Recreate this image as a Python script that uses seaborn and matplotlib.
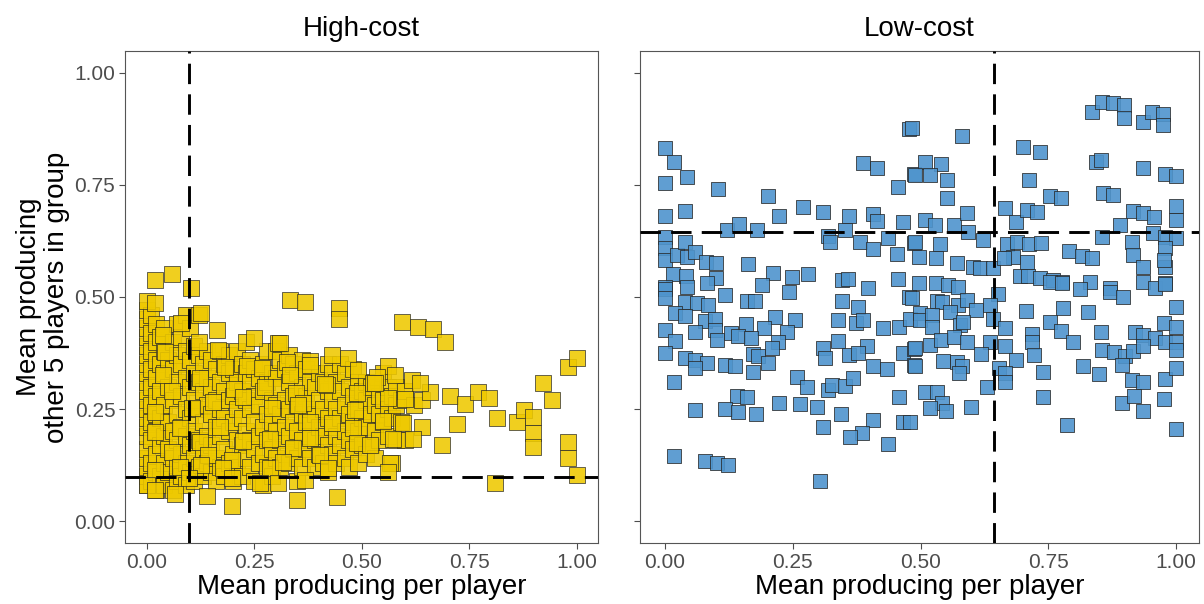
import matplotlib
matplotlib.use("Agg")
import matplotlib.pyplot as plt
import seaborn as sns
import pandas as pd

sns.set_theme(style="white")
plt.rcParams['font.family'] = ['Liberation Sans', 'DejaVu Sans']

# ---------------- text ----------------
panel_titles = ["High-cost", "Low-cost"]
x_label = "Mean producing per player"
y_label = "Mean producing\nother 5 players in group"
tick_values = [0.00, 0.25, 0.50, 0.75, 1.00]
tick_labels = ["0.00", "0.25", "0.50", "0.75", "1.00"]

# ---------------- reference means (dashed lines) ----------------
hc_mean_self = 0.097
hc_mean_other = 0.098
lc_mean_self = 0.644
lc_mean_other = 0.646

# ---------------- High-cost: individually read points ----------------
hc_x = [0.019, 0.058, 0.102, 0.000, 0.019, 0.126, 0.079, 0.163, 0.249, 0.037,
        0.121, 0.305, 0.042, 0.165, 0.181, 0.233, 0.267, 0.037, 0.123, 0.274,
        0.058, 0.202, 0.153, 0.223, 0.019, 0.291, 0.105, 0.170, 0.019, 0.077,
        0.123, 0.223, 0.286, 0.058, 0.142, 0.198, 0.286, 0.019, 0.077, 0.126,
        0.177, 0.098, 0.198, 0.263, 0.000, 0.019, 0.065, 0.140, 0.198,
        0.333, 0.367, 0.447, 0.447, 0.593, 0.630, 0.665, 0.693, 0.309, 0.430,
        0.467, 0.379, 0.326, 0.490, 0.560, 0.577, 0.616, 0.535,
        0.379, 0.658, 0.333, 0.419, 0.488, 0.526, 0.560, 0.600, 0.347, 0.363,
        0.379, 0.430, 0.479, 0.549, 0.595, 0.379, 0.340, 0.488, 0.519, 0.572,
        0.619, 0.316, 0.402, 0.421, 0.565, 0.560, 0.305, 0.367, 0.349, 0.442,
        0.686, 0.635, 0.705, 0.740, 0.770, 0.795, 0.814, 0.721, 0.860, 0.877,
        0.898, 0.898, 0.898, 0.921, 0.942, 0.979, 1.000, 0.979, 0.979, 1.000,
        0.809, 0.414, 0.530, 0.351, 0.484]
hc_y = [0.538, 0.551, 0.520, 0.490, 0.487, 0.464, 0.442, 0.426, 0.408, 0.415,
        0.400, 0.397, 0.377, 0.382, 0.344, 0.346, 0.341, 0.326, 0.319, 0.299,
        0.290, 0.295, 0.266, 0.277, 0.243, 0.252, 0.252, 0.210, 0.199, 0.208,
        0.176, 0.179, 0.183, 0.154, 0.147, 0.136, 0.118, 0.114, 0.120, 0.125,
        0.118, 0.096, 0.096, 0.085, 0.080, 0.069, 0.060, 0.056, 0.033,
        0.493, 0.489, 0.475, 0.451, 0.444, 0.433, 0.429, 0.400, 0.397, 0.370,
        0.363, 0.357, 0.355, 0.337, 0.346, 0.326, 0.315, 0.321,
        0.348, 0.288, 0.326, 0.304, 0.286, 0.308, 0.275, 0.272, 0.286, 0.263,
        0.221, 0.219, 0.208, 0.223, 0.219, 0.185, 0.163, 0.174, 0.170, 0.183,
        0.183, 0.132, 0.147, 0.118, 0.129, 0.109, 0.085, 0.092, 0.047, 0.054,
        0.170, 0.308, 0.279, 0.261, 0.288, 0.275, 0.230, 0.217, 0.221, 0.248,
        0.232, 0.196, 0.165, 0.308, 0.270, 0.344, 0.364, 0.176, 0.141, 0.103,
        0.085, 0.306, 0.308, 0.259, 0.248]

# ---------------- High-cost: dense cloud, read column by column ----------------
hc_cloud_x = [0.00, 0.01, 0.02, 0.03, 0.04, 0.05, 0.06, 0.07, 0.08, 0.09,
              0.10, 0.11, 0.12, 0.13, 0.14, 0.15, 0.16, 0.17, 0.18, 0.19,
              0.20, 0.21, 0.22, 0.23, 0.24, 0.25, 0.26, 0.27, 0.28, 0.29,
              0.30, 0.31, 0.32, 0.33, 0.34, 0.35, 0.36, 0.37, 0.38, 0.39,
              0.40, 0.41, 0.42, 0.43, 0.44, 0.45, 0.46, 0.47, 0.48, 0.49,
              0.50, 0.51, 0.52, 0.53, 0.54, 0.55, 0.56, 0.57, 0.58, 0.59,
              0.60, 0.62, 0.64]
hc_cloud_y = [
    [0.08, 0.10, 0.12, 0.14, 0.16, 0.19, 0.21, 0.23, 0.25, 0.27, 0.29, 0.31, 0.33, 0.35, 0.37, 0.39, 0.41, 0.43, 0.45, 0.47],
    [0.09, 0.13, 0.18, 0.22, 0.26, 0.30, 0.34, 0.38, 0.42, 0.46],
    [0.07, 0.11, 0.15, 0.20, 0.24, 0.28, 0.32, 0.36, 0.40, 0.44],
    [0.10, 0.17, 0.23, 0.29, 0.35, 0.41],
    [0.08, 0.13, 0.19, 0.26, 0.33, 0.38, 0.43],
    [0.11, 0.16, 0.22, 0.30, 0.36],
    [0.07, 0.14, 0.20, 0.27, 0.34, 0.40],
    [0.09, 0.12, 0.18, 0.24, 0.31, 0.37, 0.44],
    [0.10, 0.15, 0.21, 0.28, 0.35, 0.41],
    [0.08, 0.13, 0.19, 0.25, 0.32, 0.38, 0.46],
    [0.11, 0.17, 0.23, 0.30, 0.36, 0.43],
    [0.09, 0.14, 0.20, 0.27, 0.33, 0.39],
    [0.12, 0.18, 0.25, 0.31, 0.37, 0.46],
    [0.10, 0.16, 0.22, 0.29, 0.35],
    [0.13, 0.19, 0.26, 0.32, 0.38],
    [0.11, 0.17, 0.24, 0.30, 0.36],
    [0.09, 0.14, 0.21, 0.27, 0.34],
    [0.12, 0.19, 0.25, 0.31, 0.38],
    [0.10, 0.16, 0.23, 0.29, 0.35],
    [0.13, 0.20, 0.27, 0.33, 0.37],
    [0.09, 0.15, 0.22, 0.28, 0.34],
    [0.12, 0.18, 0.25, 0.31, 0.38],
    [0.10, 0.17, 0.23, 0.29, 0.35],
    [0.14, 0.20, 0.27, 0.33, 0.40],
    [0.12, 0.18, 0.25, 0.31, 0.36],
    [0.09, 0.16, 0.22, 0.28, 0.34],
    [0.13, 0.19, 0.26, 0.32],
    [0.08, 0.15, 0.21, 0.29, 0.35],
    [0.12, 0.18, 0.24, 0.31, 0.38],
    [0.10, 0.16, 0.22, 0.27, 0.33],
    [0.14, 0.20, 0.26, 0.32, 0.38],
    [0.12, 0.18, 0.24, 0.30, 0.36],
    [0.15, 0.21, 0.27, 0.34],
    [0.13, 0.19, 0.25, 0.31, 0.37],
    [0.16, 0.22, 0.28, 0.35],
    [0.09, 0.14, 0.20, 0.26, 0.33],
    [0.12, 0.18, 0.24, 0.30, 0.36],
    [0.16, 0.22, 0.28, 0.34],
    [0.14, 0.19, 0.25, 0.31],
    [0.12, 0.18, 0.24, 0.30],
    [0.15, 0.21, 0.27, 0.33],
    [0.13, 0.19, 0.25, 0.31],
    [0.11, 0.17, 0.23, 0.29, 0.35],
    [0.15, 0.21, 0.27, 0.33],
    [0.13, 0.19, 0.25, 0.31],
    [0.17, 0.23, 0.29, 0.35],
    [0.14, 0.20, 0.26, 0.33],
    [0.12, 0.18, 0.24, 0.30],
    [0.16, 0.22, 0.28, 0.34],
    [0.13, 0.20, 0.25, 0.31],
    [0.17, 0.23, 0.29],
    [0.15, 0.21, 0.27, 0.31],
    [0.17, 0.24, 0.30],
    [0.14, 0.20, 0.26],
    [0.18, 0.24, 0.28],
    [0.22, 0.27, 0.33],
    [0.19, 0.25, 0.30],
    [0.13, 0.23, 0.28],
    [0.18, 0.26, 0.30],
    [0.22, 0.27],
    [0.18, 0.29],
    [0.26],
    [0.21, 0.27],
]

# ---------------- Low-cost points ----------------
lc_x = [0.000, 0.018, 0.000, 0.043, 0.104, 0.202, 0.000, 0.039, 0.223, 0.270,
        0.309, 0.360, 0.407, 0.415, 0.466, 0.387, 0.415, 0.456, 0.477, 0.487,
        0.121, 0.145, 0.180, 0.319, 0.323, 0.352, 0.382, 0.407, 0.436, 0.454,
        0.487, 0.000, 0.000, 0.000, 0.023, 0.039, 0.043, 0.059, 0.080, 0.100,
        0.100, 0.162, 0.211, 0.249, 0.280, 0.016, 0.041, 0.082, 0.190, 0.346,
        0.358, 0.397, 0.456, 0.000, 0.043,
        0.483, 0.581, 0.701, 0.734, 0.843, 0.853, 0.935, 0.978, 1.000, 0.509,
        0.540, 0.489, 0.519, 0.552, 0.552, 0.712, 0.753, 0.775, 0.857, 0.877,
        0.665, 0.687, 0.708, 0.728, 0.916, 0.935, 0.957, 1.000, 1.000, 0.890,
        0.509, 0.528, 0.566, 0.591, 0.593, 0.622, 0.489, 0.538, 0.497, 0.530,
        0.571, 0.603, 0.616, 0.642, 0.669, 0.689, 0.712, 0.736, 0.681, 0.663,
        0.708, 0.791, 0.816, 0.836, 0.855, 0.914, 0.916, 0.935, 0.955, 0.978,
        1.000, 0.978, 0.978, 0.977, 0.695, 0.710, 0.734, 0.759, 0.777, 0.832,
        0.871, 0.935, 0.959, 0.978, 0.497, 0.530, 0.554, 0.573,
        0.836, 0.855, 0.877, 0.898, 0.898, 0.935, 0.953, 0.975, 0.975,
        0.000, 0.000, 0.243, 0.477, 0.346, 0.378, 0.039, 0.063, 0.084, 0.117,
        0.160, 0.176, 0.020, 0.039, 0.078, 0.098, 0.215, 0.254, 0.159, 0.194,
        0.239, 0.339, 0.374, 0.387, 0.427, 0.458, 0.479, 0.000, 0.059, 0.098,
        0.129, 0.102, 0.143, 0.168, 0.221, 0.209, 0.020, 0.339, 0.395, 0.000,
        0.039, 0.059, 0.082, 0.117, 0.137, 0.172, 0.182, 0.202, 0.172, 0.059,
        0.309, 0.313, 0.360, 0.378, 0.407, 0.434, 0.466, 0.487, 0.487, 0.018,
        0.258, 0.278, 0.319, 0.327, 0.352, 0.368, 0.458, 0.141, 0.160, 0.059,
        0.117, 0.143, 0.178, 0.223, 0.264, 0.297, 0.344, 0.309, 0.407, 0.386,
        0.362, 0.436, 0.466, 0.018, 0.078, 0.102, 0.123, 0.303,
        0.652, 0.753, 0.777, 0.812, 0.871, 0.896, 0.978, 1.000, 0.483, 0.532,
        0.542, 0.573, 0.591, 0.609, 0.636, 0.499, 0.499, 0.523, 0.523, 0.558,
        0.577, 0.583, 0.642, 0.665, 0.706, 0.779, 0.828, 0.753, 0.775, 0.798,
        0.718, 0.718, 0.853, 0.920, 0.935, 0.959, 0.978, 0.977, 1.000, 1.000,
        1.000, 0.489, 0.519, 0.540, 0.566, 0.591, 0.636, 0.665, 0.618, 0.687,
        0.722, 0.855, 0.879, 0.900, 0.916, 0.935, 0.489, 0.544, 0.571, 0.581,
        0.575, 0.654, 0.665, 0.665, 0.630, 0.740, 0.818, 0.849, 0.894, 0.914,
        0.935, 0.978, 1.000, 0.509, 0.532, 0.542, 0.519, 0.550, 0.599, 0.740,
        0.894, 0.918, 0.935, 0.977, 0.787, 1.000, 0.479]
lc_y = [0.833, 0.801, 0.754, 0.768, 0.741, 0.725, 0.681, 0.692, 0.681, 0.701,
        0.690, 0.681, 0.685, 0.670, 0.667, 0.799, 0.788, 0.746, 0.875, 0.775,
        0.650, 0.663, 0.650, 0.636, 0.623, 0.650, 0.623, 0.607, 0.632, 0.596,
        0.621, 0.634, 0.609, 0.583, 0.594, 0.623, 0.589, 0.600, 0.578, 0.576,
        0.542, 0.574, 0.554, 0.545, 0.551, 0.551, 0.547, 0.531, 0.527, 0.538,
        0.540, 0.520, 0.540, 0.522, 0.522,
        0.877, 0.859, 0.835, 0.824, 0.801, 0.806, 0.788, 0.775, 0.770, 0.801,
        0.797, 0.772, 0.772, 0.761, 0.721, 0.761, 0.725, 0.721, 0.732, 0.728,
        0.699, 0.667, 0.694, 0.690, 0.692, 0.688, 0.679, 0.703, 0.672, 0.661,
        0.672, 0.661, 0.661, 0.688, 0.645, 0.627, 0.623, 0.618, 0.589, 0.587,
        0.576, 0.567, 0.565, 0.565, 0.618, 0.623, 0.618, 0.621, 0.589, 0.587,
        0.578, 0.603, 0.592, 0.587, 0.634, 0.623, 0.594, 0.567, 0.643, 0.634,
        0.632, 0.609, 0.567, 0.583, 0.547, 0.547, 0.542, 0.538, 0.533, 0.533,
        0.520, 0.533, 0.520, 0.531, 0.531, 0.531, 0.527, 0.522,
        0.913, 0.935, 0.933, 0.929, 0.900, 0.891, 0.913, 0.908, 0.884,
        0.518, 0.498, 0.511, 0.500, 0.491, 0.478, 0.489, 0.487, 0.482, 0.504,
        0.491, 0.491, 0.464, 0.458, 0.446, 0.451, 0.455, 0.449, 0.440, 0.431,
        0.422, 0.449, 0.442, 0.449, 0.431, 0.433, 0.451, 0.426, 0.422, 0.426,
        0.420, 0.404, 0.413, 0.408, 0.400, 0.386, 0.402, 0.402, 0.391, 0.375,
        0.364, 0.359, 0.353, 0.348, 0.346, 0.373, 0.368, 0.353, 0.333, 0.342,
        0.386, 0.364, 0.371, 0.375, 0.346, 0.339, 0.375, 0.384, 0.348, 0.310,
        0.321, 0.299, 0.292, 0.304, 0.301, 0.319, 0.277, 0.279, 0.277, 0.248,
        0.250, 0.243, 0.239, 0.263, 0.261, 0.254, 0.239, 0.210, 0.225, 0.196,
        0.188, 0.172, 0.221, 0.145, 0.134, 0.129, 0.125, 0.089,
        0.507, 0.533, 0.531, 0.518, 0.511, 0.500, 0.529, 0.478, 0.498, 0.491,
        0.489, 0.482, 0.493, 0.471, 0.482, 0.464, 0.449, 0.460, 0.433, 0.467,
        0.438, 0.444, 0.451, 0.431, 0.469, 0.475, 0.467, 0.444, 0.424, 0.400,
        0.417, 0.400, 0.422, 0.422, 0.415, 0.408, 0.400, 0.442, 0.433, 0.400,
        0.382, 0.386, 0.393, 0.404, 0.411, 0.400, 0.400, 0.391, 0.373, 0.359,
        0.371, 0.382, 0.377, 0.368, 0.379, 0.391, 0.346, 0.357, 0.355, 0.346,
        0.330, 0.342, 0.330, 0.310, 0.299, 0.333, 0.346, 0.328, 0.348, 0.315,
        0.310, 0.317, 0.342, 0.288, 0.288, 0.263, 0.252, 0.246, 0.254, 0.277,
        0.263, 0.279, 0.246, 0.272, 0.214, 0.205, 0.221]

# ---------------- tables ----------------
cloud_x, cloud_y = [], []
for cx, ys in zip(hc_cloud_x, hc_cloud_y):
    for cy in ys:
        cloud_x.append(cx)
        cloud_y.append(cy)
df_hc = pd.DataFrame({"x": cloud_x + hc_x, "y": cloud_y + hc_y})
df_lc = pd.DataFrame({"x": lc_x, "y": lc_y})

# ---------------- figure ----------------
fig = plt.figure(figsize=(12.04, 6.04), dpi=100)
ax1 = fig.add_axes([125 / 1204, 1 - 543 / 604, 473 / 1204, 492 / 604])
ax2 = fig.add_axes([640 / 1204, 1 - 543 / 604, 559 / 1204, 492 / 604])

yellow = "#EEC900"
blue = "#4F94CD"
edge = "#262626"

sns.scatterplot(data=df_hc, x="x", y="y", ax=ax1, marker="s", s=135,
                color=yellow, edgecolor=edge, linewidth=0.55, alpha=0.88, zorder=2)
sns.scatterplot(data=df_lc, x="x", y="y", ax=ax2, marker="s", s=105,
                color=blue, edgecolor=edge, linewidth=0.6, alpha=0.9, zorder=2)

dash = dict(color="black", lw=2.1, dashes=(7, 3.5), zorder=3)
ax1.axvline(hc_mean_self, **dash)
ax1.axhline(hc_mean_other, **dash)
ax2.axvline(lc_mean_self, **dash)
ax2.axhline(lc_mean_other, **dash)

for ax, title in zip([ax1, ax2], panel_titles):
    ax.set_title(title, fontsize=20, pad=11, color="black")
    ax.set_xticks(tick_values)
    ax.set_xticklabels(tick_labels)
    ax.set_yticks(tick_values)
    ax.set_yticklabels(tick_labels)
    ax.set_ylim(-0.049, 1.049)
    ax.tick_params(axis="both", which="major", length=4, width=0.8,
                   color="#4d4d4d", labelcolor="#4d4d4d", labelsize=15,
                   bottom=True, left=True, direction="out", pad=3)
    ax.set_xlabel(x_label, fontsize=20, labelpad=2, color="black")
    for sp in ax.spines.values():
        sp.set_visible(True)
        sp.set_color("#555555")
        sp.set_linewidth(0.8)
    ax.grid(False)

ax1.set_xlim(-0.051, 1.049)
ax2.set_xlim(-0.049, 1.045)
ax1.set_ylabel(y_label, fontsize=20, labelpad=3, color="black", linespacing=1.12)
ax2.set_ylabel("")
ax2.set_yticklabels([])

fig.savefig("out.png", dpi=100, facecolor="white")
